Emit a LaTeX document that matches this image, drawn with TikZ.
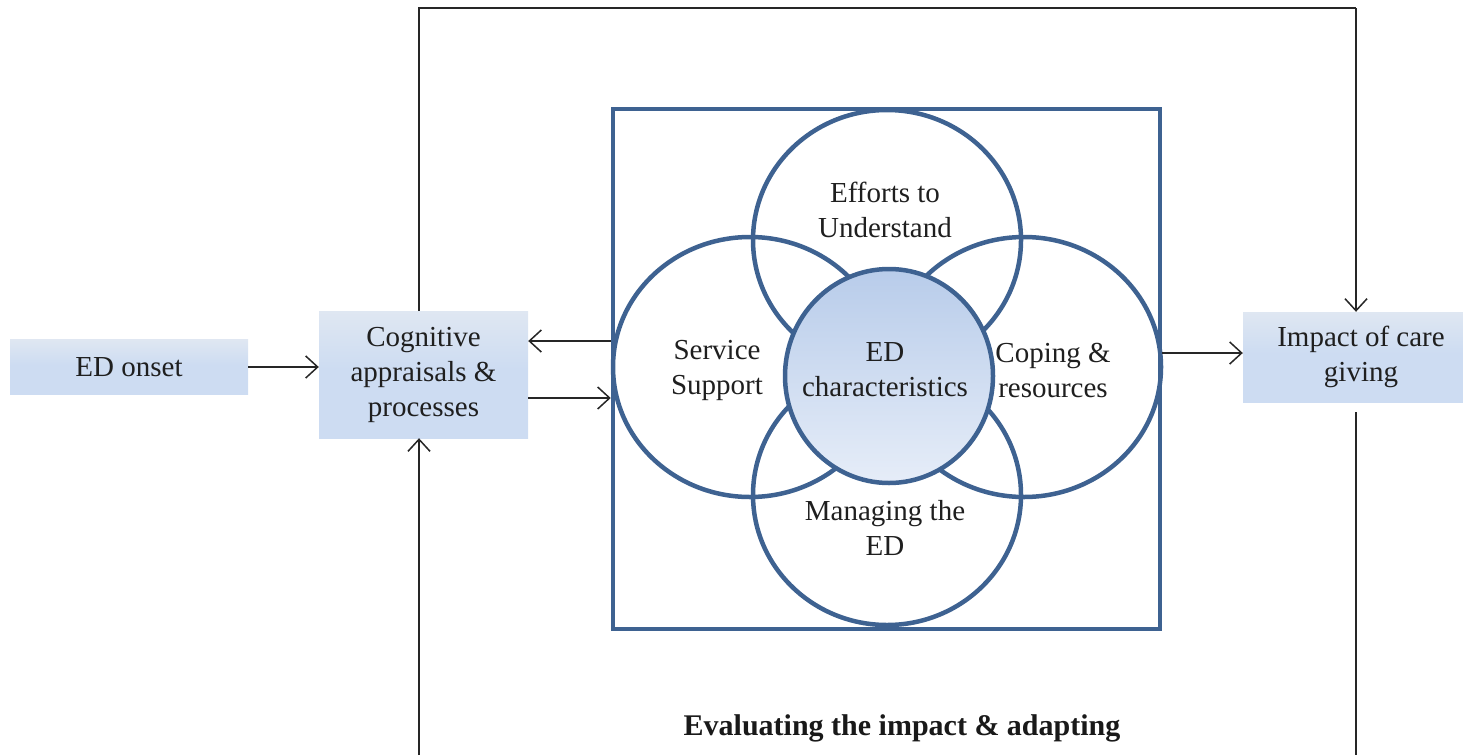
\documentclass[tikz,border=0pt]{standalone}
\usepackage{fontspec}
\setmainfont{Liberation Serif}
\usetikzlibrary{arrows.meta}
\definecolor{edblue}{RGB}{62,98,145}
\definecolor{boxblue}{RGB}{205,220,242}
\definecolor{boxtop}{RGB}{243,243,243}
\definecolor{boxbot}{RGB}{232,238,248}
\definecolor{ctop}{RGB}{184,204,234}
\definecolor{cbot}{RGB}{230,237,248}
\pgfdeclareverticalshading{boxshade}{100bp}{color(0bp)=(boxbot); color(20bp)=(boxblue); color(52bp)=(boxblue); color(100bp)=(boxtop)}
\begin{document}
\begin{tikzpicture}[x=1pt,y=-1pt,
  lbl/.style={font=\fontsize{29}{35}\selectfont, align=center, text=black!88, inner sep=0pt},
  grbox/.style={lbl, rectangle, shading=boxshade},
  ring/.style={draw=edblue, line width=4.5pt},
  conn/.style={draw=black!85, line width=1.5pt},
  arr/.style={conn, -{Straight Barb[length=12pt,width=22pt,line width=1.5pt]}}
]
\useasboundingbox (0,0) rectangle (1463,755);

% side boxes
\node[grbox, minimum width=238pt, minimum height=55pt] (onset) at (129,367) {ED onset};
\node[grbox, minimum width=209pt, minimum height=127pt] (cog) at (423.5,374.5) {Cognitive\\appraisals \&\\processes};
\node[grbox, minimum width=236pt, minimum height=90pt] (imp) at (1361,357) {Impact of care\\giving};

% square frame
\node[draw=edblue, line width=4.5pt, minimum width=547pt, minimum height=520pt, inner sep=0pt] (sq) at (886.5,369) {};

% outer circles
\draw[ring] (887,240) ellipse [x radius=134pt, y radius=130pt];
\draw[ring] (887,495) ellipse [x radius=134pt, y radius=130pt];
\draw[ring] (750,367) ellipse [x radius=137pt, y radius=130pt];
\draw[ring] (1024,367) ellipse [x radius=137pt, y radius=130pt];
% centre circle
\draw[ring, top color=ctop, bottom color=cbot] (889,376) ellipse [x radius=104pt, y radius=107pt];

% circle texts
\node[lbl] (eff) at (885,210) {Efforts to\\Understand};
\node[lbl] (ser) at (717,370) {Service\\Support};
\node[lbl] (edc) at (885,370) {ED\\characteristics};
\node[lbl] (cop) at (1053,370) {Coping \&\\resources};
\node[lbl] (man) at (885,528) {Managing the\\ED};

% connectors
\draw[arr] (onset.east) -- (cog.west |- onset.east);
\draw[arr] (sq.west |- 0,341) -- (cog.east |- 0,341);
\draw[arr] (cog.east |- 0,398) -- (sq.west |- 0,398);
\draw[arr] (sq.east |- 0,353) -- (imp.west |- 0,353);

% outer feedback frame
\coordinate (tl) at (419,8);
\coordinate (tr) at (1356,8);
\coordinate (bl) at (419,755);
\coordinate (br) at (1356,755);
\draw[conn] (cog.north -| tl) -- (tl) -- (tr);
\draw[arr] (tr) -- (imp.north -| tr);
\draw[arr] (bl) -- (cog.south -| bl);
\draw[conn] ([yshift=-10pt]imp.south -| br) -- (br);

\node[font=\fontsize{30}{36}\selectfont\bfseries, text=black!90, inner sep=0pt] (eval) at (902,728) {Evaluating the impact \& adapting};
\end{tikzpicture}
\end{document}
